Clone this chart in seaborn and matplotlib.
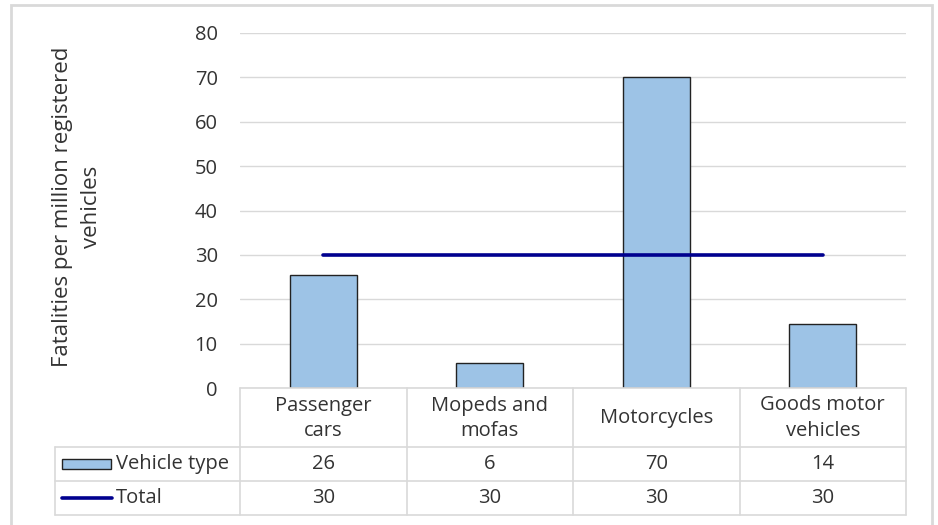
import matplotlib
matplotlib.use("Agg")
import matplotlib.pyplot as plt
from matplotlib.patches import Rectangle
import seaborn as sns
import numpy as np

# data
categories = ["Passenger\ncars", "Mopeds and\nmofas", "Motorcycles", "Goods motor\nvehicles"]
vehicle_type = [25.5, 5.6, 70.1, 14.4]
total = [30, 30, 30, 30]
series_names = ["Vehicle type", "Total"]
y_label = "Fatalities per million registered\nvehicles"

BAR_COLOR = "#9DC3E6"
LINE_COLOR = "#00008F"
GRID = "#D9D9D9"
TEXT = "#333333"
FS = 14.5

sns.set_theme(style="white")
plt.rcParams["font.family"] = ["Open Sans", "DejaVu Sans"]

W, H = 938, 525
fig = plt.figure(figsize=(W / 100, H / 100), dpi=100)


def fx(px):
    return px / W


def fy(py):
    return 1 - py / H


# outer frame
fig.patches.append(Rectangle((fx(11), fy(530)), fx(932) - fx(11), fy(5) - fy(530),
                             transform=fig.transFigure, fill=False,
                             edgecolor=GRID, linewidth=2))

# main plot area
left, right, top, bottom = 240, 906, 33, 388
ax = fig.add_axes([fx(left), fy(bottom), fx(right) - fx(left), fy(top) - fy(bottom)])
x = np.arange(len(categories))
sns.barplot(x=x, y=vehicle_type, color=BAR_COLOR, edgecolor="#222222",
            linewidth=1, width=0.4, saturation=1, ax=ax, zorder=3)
ax.plot(x, total, color=LINE_COLOR, linewidth=2.6, solid_capstyle="round", zorder=4)

ax.set_xlim(-0.5, len(categories) - 0.5)
ax.set_ylim(0, 80)
ax.set_yticks(range(0, 81, 10))
ax.yaxis.grid(True, color=GRID, linewidth=1)
ax.set_axisbelow(True)
for s in ax.spines.values():
    s.set_visible(False)
ax.set_xticks([])
ax.tick_params(axis="y", length=0, pad=16, labelsize=FS, labelcolor=TEXT)
ax.set_xlabel("")

fig.text(fx(77), fy(207), y_label, rotation=90, ha="center",
         va="center", multialignment="center", fontsize=16, color=TEXT,
         linespacing=1.45)

# data table under the chart
unit = (right - left) / len(categories)
t_left = 55
tx0 = -0.5 - (left - t_left) / unit
tab = fig.add_axes([fx(t_left), fy(515), fx(right) - fx(t_left), fy(388) - fy(515)])
tab.set_xlim(tx0, len(categories) - 0.5)
tab.set_ylim(127, 0)
tab.axis("off")


def px2x(px):
    return -0.5 + (px - left) / unit


rows = [0, 59, 93, 127]
# horizontal lines
tab.plot([-0.5, len(categories) - 0.5], [rows[0], rows[0]], color=GRID, lw=1.2, clip_on=False)
for r in rows[1:]:
    tab.plot([tx0, len(categories) - 0.5], [r, r], color=GRID, lw=1.2, clip_on=False)
# vertical lines
tab.plot([tx0, tx0], [rows[1], rows[3]], color=GRID, lw=1.2, clip_on=False)
for b in np.arange(-0.5, len(categories), 1.0):
    tab.plot([b, b], [rows[0], rows[3]], color=GRID, lw=1.2, clip_on=False)

for i, cat in enumerate(categories):
    tab.text(i, (rows[0] + rows[1]) / 2 + 1, cat, ha="center", va="center",
             multialignment="center", fontsize=FS, color=TEXT, linespacing=1.4)
    tab.text(i, (rows[1] + rows[2]) / 2, f"{vehicle_type[i]:.0f}", ha="center",
             va="center", fontsize=FS, color=TEXT)
    tab.text(i, (rows[2] + rows[3]) / 2, f"{total[i]:.0f}", ha="center",
             va="center", fontsize=FS, color=TEXT)

# legend keys in the table
tab.add_patch(Rectangle((px2x(62), 71), px2x(111) - px2x(62), 10,
                        facecolor=BAR_COLOR, edgecolor="#222222", lw=1))
tab.plot([px2x(62), px2x(112)], [110, 110], color=LINE_COLOR, lw=2.6)
tab.text(px2x(116), (rows[1] + rows[2]) / 2, series_names[0], ha="left", va="center",
         fontsize=FS, color=TEXT)
tab.text(px2x(116), (rows[2] + rows[3]) / 2, series_names[1], ha="left", va="center",
         fontsize=FS, color=TEXT)

fig.savefig("out.png", dpi=100)
